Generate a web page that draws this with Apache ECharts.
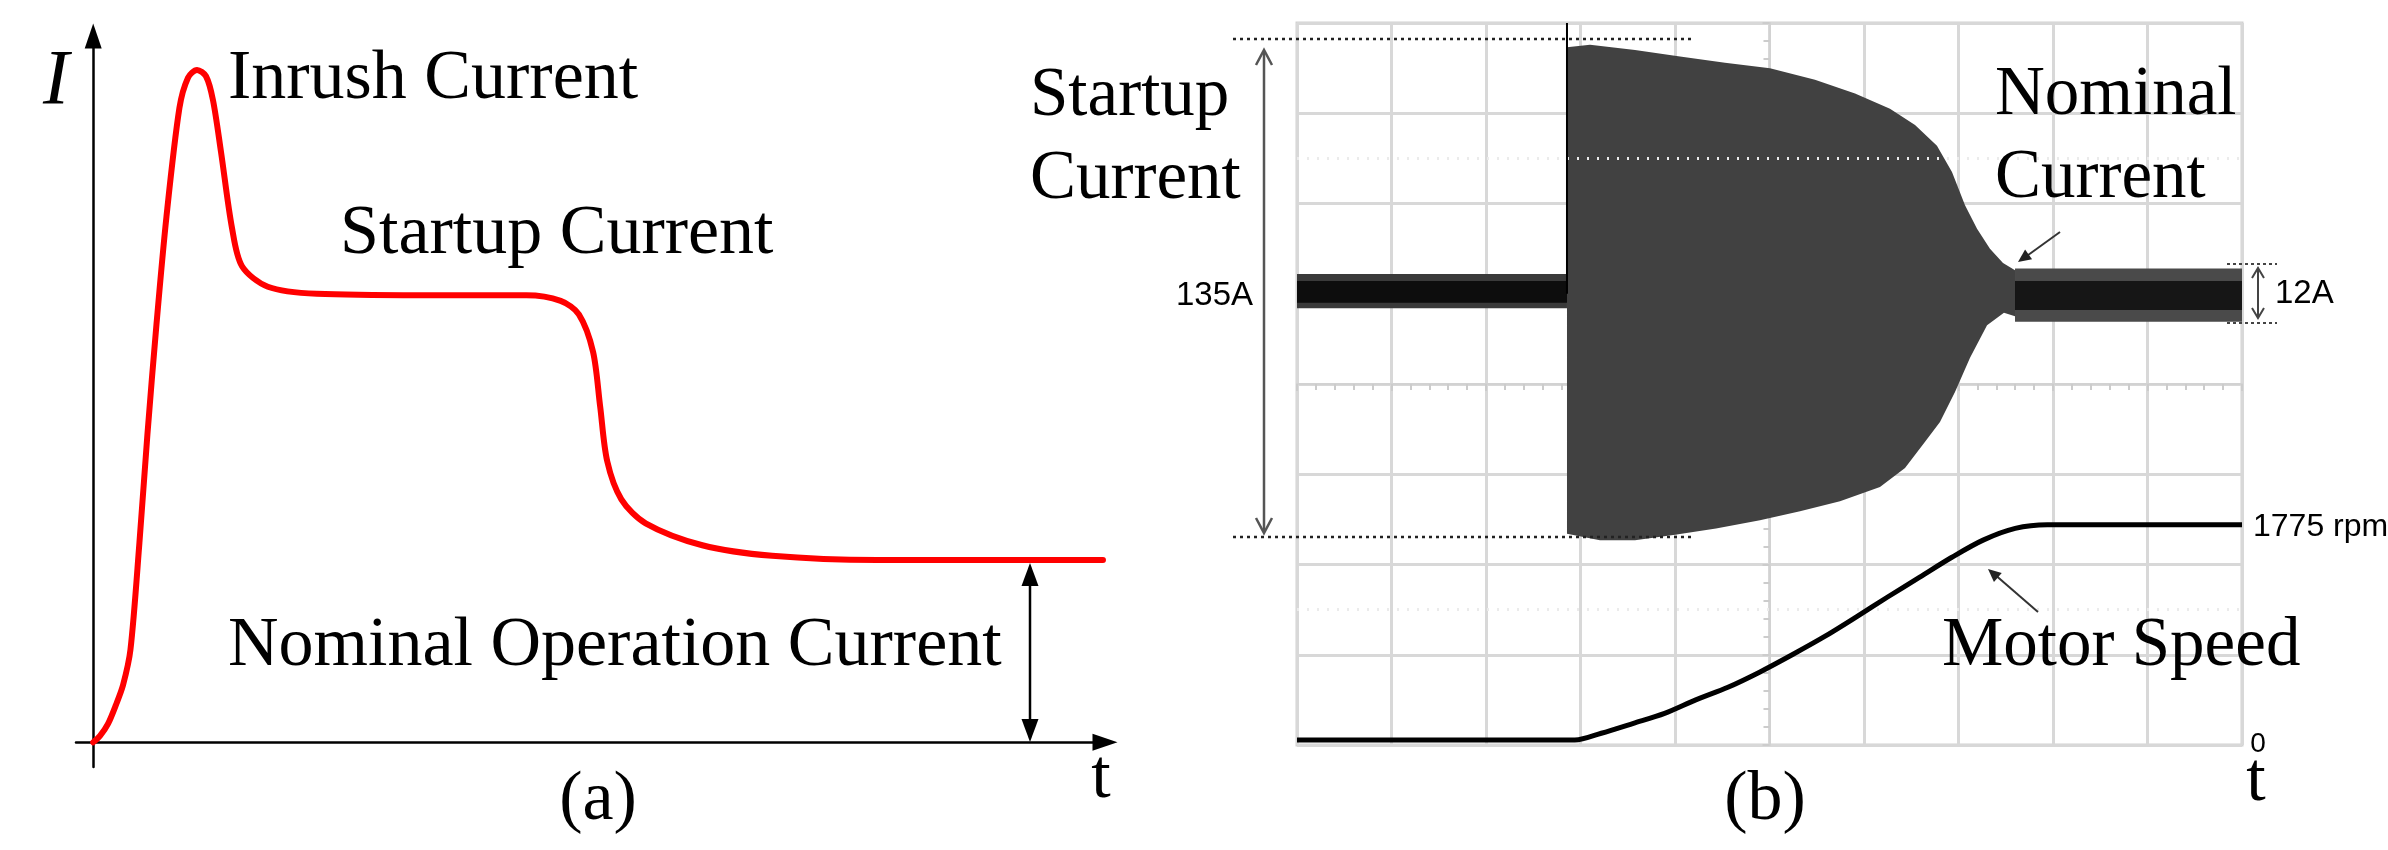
<!DOCTYPE html>
<html><head><meta charset="utf-8">
<script src="https://cdn.jsdelivr.net/npm/echarts@6/dist/echarts.min.js"></script>
<style>html,body{margin:0;padding:0;background:#fff}#c{width:2388px;height:850px}</style>
</head><body><div id="c"></div>
<script>
// ---------- Panel (a): schematic motor current (arbitrary units) ----------
const schematicT = [0, 0.67, 1.46, 2.25, 2.95, 3.68, 4.57, 5.36, 6.25, 7.24, 8.52, 9.37, 10.26, 11.15, 11.84, 12.63, 13.72, 14.71, 17.26, 22.1, 32.4, 42.8, 46.2, 48.0, 49.4, 50.1, 50.8, 52.2, 54.6, 60.2, 67.1, 77.5, 99.8];
const schematicI = [0, 0.9, 2.6, 5.3, 8.1, 13.1, 28.3, 43.6, 59.1, 74.4, 89.8, 94.1, 95.2, 94.3, 90.9, 83.6, 72.8, 67.4, 64.5, 63.5, 63.3, 63.3, 62.5, 60.6, 55.3, 47.6, 39.8, 34.4, 31.0, 27.9, 26.4, 25.8, 25.8];

// ---------- Panel (b): oscilloscope traces (divisions from screen centre) ----------
const preX = [-5, -2.143];
const preOuterUp = [1.22, 1.22], preOuterLo = [0.84, 0.84];
const preCoreUp = [1.14, 1.14], preCoreLo = [0.90, 0.90];

const burstUpX = [-2.143, -1.899, -1.423, -0.947, -0.471, 0.005, 0.481, 0.905, 1.275, 1.540, 1.772, 1.931, 2.069, 2.196, 2.333, 2.471, 2.598];
const burstUpY = [3.73, 3.76, 3.70, 3.63, 3.56, 3.50, 3.37, 3.22, 3.05, 2.87, 2.64, 2.35, 1.98, 1.72, 1.50, 1.34, 1.26];
const burstLoX = [-2.143, -1.794, -1.423, -1.000, -0.566, -0.101, 0.323, 0.746, 1.169, 1.434, 1.646, 1.804, 1.963, 2.122, 2.302, 2.481, 2.598];
const burstLoY = [-1.66, -1.73, -1.73, -1.67, -1.60, -1.51, -1.41, -1.30, -1.14, -0.93, -0.64, -0.42, -0.09, 0.29, 0.65, 0.79, 0.75];

const postX = [2.598, 5];
const postOuterUp = [1.28, 1.28], postOuterLo = [0.69, 0.69];
const postCoreUp = [1.14, 1.14], postCoreLo = [0.82, 0.82];

const spikeX = [-2.143, -2.143];
const spikeY = [1.0, 4.0];

const speedX = [-5, -2.06, -1.78, -1.44, -1.11, -0.78, -0.44, -0.10, 0.24, 0.58, 0.92, 1.25, 1.59, 1.93, 2.26, 2.60, 2.94, 5];
const speedY = [-3.945, -3.945, -3.87, -3.76, -3.65, -3.50, -3.36, -3.19, -3.00, -2.80, -2.58, -2.36, -2.14, -1.92, -1.73, -1.60, -1.56, -1.56];

const cursorLevels = [2.5, -2.5];

// ---------- helpers ----------
const zip = (xs, ys) => xs.map((x, i) => [x, ys[i]]);
function band(xUp, up, xLo, lo, color, z) {
  const top = zip(xUp, up), bot = zip(xLo, lo);
  return {
    type: 'custom', xAxisIndex: 1, yAxisIndex: 1, silent: true, z: z,
    data: top.concat(bot), encode: {x: 0, y: 1},
    renderItem: function (params, api) {
      if (params.dataIndex !== 0) return null;
      const pts = top.map(p => api.coord(p)).concat(bot.slice().reverse().map(p => api.coord(p)));
      return {type: 'polygon', shape: {points: pts}, style: {fill: color}};
    }
  };
}
const SERIF = '"Liberation Serif","Times New Roman",serif';
const SANS = '"Liberation Sans",Arial,sans-serif';
function txt(s, x, y, size, fam, align, extra) {
  return {type: 'text', x: x, y: y, z: 100, silent: true,
    style: Object.assign({text: s, font: size + 'px ' + fam, fontSize: size, fontFamily: fam, fill: '#000',
      align: align || 'left', textAlign: align || 'left', verticalAlign: 'middle', textVerticalAlign: 'middle'}, extra || {})};
}
function seg(x1, y1, x2, y2, color, w, dash) {
  return {type: 'line', z: 100, silent: true, shape: {x1, y1, x2, y2},
    style: {stroke: color, lineWidth: w, lineDash: dash || null}};
}
function head(tx, ty, fx, fy, L, W, color, filled, lw) {
  const dx = tx - fx, dy = ty - fy, d = Math.hypot(dx, dy), ux = dx / d, uy = dy / d;
  const bx = tx - ux * L, by = ty - uy * L, nx = -uy * W, ny = ux * W;
  const pts = [[bx + nx, by + ny], [tx, ty], [bx - nx, by - ny]];
  if (filled) return {type: 'polygon', z: 101, silent: true, shape: {points: pts}, style: {fill: color}};
  return {type: 'polyline', z: 101, silent: true, shape: {points: pts}, style: {stroke: color, lineWidth: lw || 2, fill: null}};
}

const graphics = [
  // panel (a) texts
  txt('I', 56, 82, 78, SERIF, 'center', {fontStyle: 'italic', font: 'italic 78px ' + SERIF}),
  txt('Inrush Current', 228, 80, 70, SERIF),
  txt('Startup Current', 340, 235, 70, SERIF),
  txt('Nominal Operation Current', 228, 647, 70, SERIF),
  txt('(a)', 598, 801, 70, SERIF, 'center'),
  txt('t', 1101, 779, 70, SERIF, 'center'),
  // panel (a) nominal arrow
  seg(1030, 580, 1030, 726, '#000', 2.5),
  head(1030, 563, 1030, 700, 23, 8.5, '#000', true),
  head(1030, 742, 1030, 600, 23, 8.5, '#000', true),
  // panel (b) texts
  txt('Startup', 1030, 97, 69, SERIF),
  txt('Current', 1030, 180, 69, SERIF),
  txt('Nominal', 1995, 96, 69, SERIF),
  txt('Current', 1995, 179, 69, SERIF),
  txt('Motor Speed', 1942, 647, 69, SERIF),
  txt('(b)', 1765, 801, 70, SERIF, 'center'),
  txt('t', 2256, 782, 70, SERIF, 'center'),
  txt('0', 2258, 744, 28, SANS, 'center'),
  txt('135A', 1253, 296, 33, SANS, 'right'),
  txt('12A', 2275, 294, 33, SANS),
  txt('1775 rpm', 2253, 527, 32, SANS),
  // startup span
  seg(1233, 39, 1692, 39, '#222', 2.5, [3, 4]),
  seg(1233, 537, 1693, 537, '#222', 2.5, [3, 4]),
  seg(1264, 51, 1264, 532, '#555', 2.5),
  head(1264, 50, 1264, 300, 15, 8, '#555', false, 2.5),
  head(1264, 533, 1264, 300, 15, 8, '#555', false, 2.5),
  // 12A span
  seg(2227, 264, 2277, 264, '#444', 2, [3, 3]),
  seg(2227, 323, 2277, 323, '#444', 2, [3, 3]),
  seg(2258, 269, 2258, 317, '#444', 2),
  head(2258, 268, 2258, 300, 10, 6, '#444', false, 2),
  head(2258, 318, 2258, 290, 10, 6, '#444', false, 2),
  // annotation arrows
  seg(2060, 232, 2024, 258, '#333', 2),
  head(2018, 262, 2060, 232, 13, 6, '#222', true),
  seg(2038, 612, 1993, 573, '#333', 2),
  head(1988, 569, 2038, 612, 13, 6, '#222', true)
];

const chart = echarts.init(document.getElementById('c'), null, {renderer: 'canvas'});
chart.setOption({
  animation: false,
  backgroundColor: '#fff',
  grid: [
    {left: 76, top: 36, width: 1029, height: 731, outerBoundsMode: 'none', containLabel: false},
    {left: 1297, top: 23, width: 945, height: 722, outerBoundsMode: 'none', containLabel: false,
     show: true, borderColor: '#d2d2d2', borderWidth: 3, backgroundColor: 'transparent'}
  ],
  xAxis: [
    {type: 'value', gridIndex: 0, min: -1.7, max: 100,
     axisLine: {show: true, onZero: true, symbol: ['none', 'triangle'], symbolSize: [17, 25], lineStyle: {color: '#000', width: 2.5}},
     axisTick: {show: false}, axisLabel: {show: false}, splitLine: {show: false}},
    {type: 'value', gridIndex: 1, min: -5, max: 5, interval: 1,
     axisLine: {show: true, onZero: true, lineStyle: {color: '#d2d2d2', width: 2}},
     axisTick: {show: true, length: 7, lineStyle: {color: '#cccccc', width: 2}},
     minorTick: {show: true, splitNumber: 5, length: 6, lineStyle: {color: '#cccccc', width: 2}},
     axisLabel: {show: false}, splitLine: {show: true, lineStyle: {color: '#d8d8d8', width: 3}}}
  ],
  yAxis: [
    {type: 'value', gridIndex: 0, min: -3.5, max: 100,
     axisLine: {show: true, onZero: true, symbol: ['none', 'triangle'], symbolSize: [17, 25], lineStyle: {color: '#000', width: 2.5}},
     axisTick: {show: false}, axisLabel: {show: false}, splitLine: {show: false}},
    {type: 'value', gridIndex: 1, min: -4, max: 4, interval: 1,
     axisLine: {show: true, onZero: true, lineStyle: {color: '#d2d2d2', width: 2}},
     axisTick: {show: true, length: 7, lineStyle: {color: '#cccccc', width: 2}},
     minorTick: {show: true, splitNumber: 5, length: 6, lineStyle: {color: '#cccccc', width: 2}},
     axisLabel: {show: false}, splitLine: {show: true, lineStyle: {color: '#d8d8d8', width: 3}}}
  ],
  series: [
    {type: 'line', xAxisIndex: 0, yAxisIndex: 0, data: zip(schematicT, schematicI),
     smooth: 0.3, symbol: 'none', silent: true, z: 5,
     lineStyle: {color: '#ff0000', width: 6, cap: 'round', join: 'round'}},
    band(preX, preOuterUp, preX, preOuterLo, '#3a3a3a', 3),
    band(preX, preCoreUp, preX, preCoreLo, '#0d0d0d', 4),
    band(burstUpX, burstUpY, burstLoX, burstLoY, '#414141', 3),
    band(postX, postOuterUp, postX, postOuterLo, '#4a4a4a', 3),
    band(postX, postCoreUp, postX, postCoreLo, '#161616', 4),
    {type: 'line', xAxisIndex: 1, yAxisIndex: 1, data: zip(spikeX, spikeY), symbol: 'none', silent: true, z: 5,
     lineStyle: {color: '#000', width: 2}},
    {type: 'line', xAxisIndex: 1, yAxisIndex: 1, data: zip(speedX, speedY),
     smooth: 0.3, symbol: 'none', silent: true, z: 5,
     lineStyle: {color: '#000', width: 5, join: 'round'},
     markLine: {silent: true, symbol: 'none', label: {show: false},
       lineStyle: {color: '#ebebeb', type: [2, 8], width: 3},
       data: cursorLevels.map(v => ({yAxis: v}))}}
  ],
  graphic: {elements: graphics}
});
</script></body></html>
